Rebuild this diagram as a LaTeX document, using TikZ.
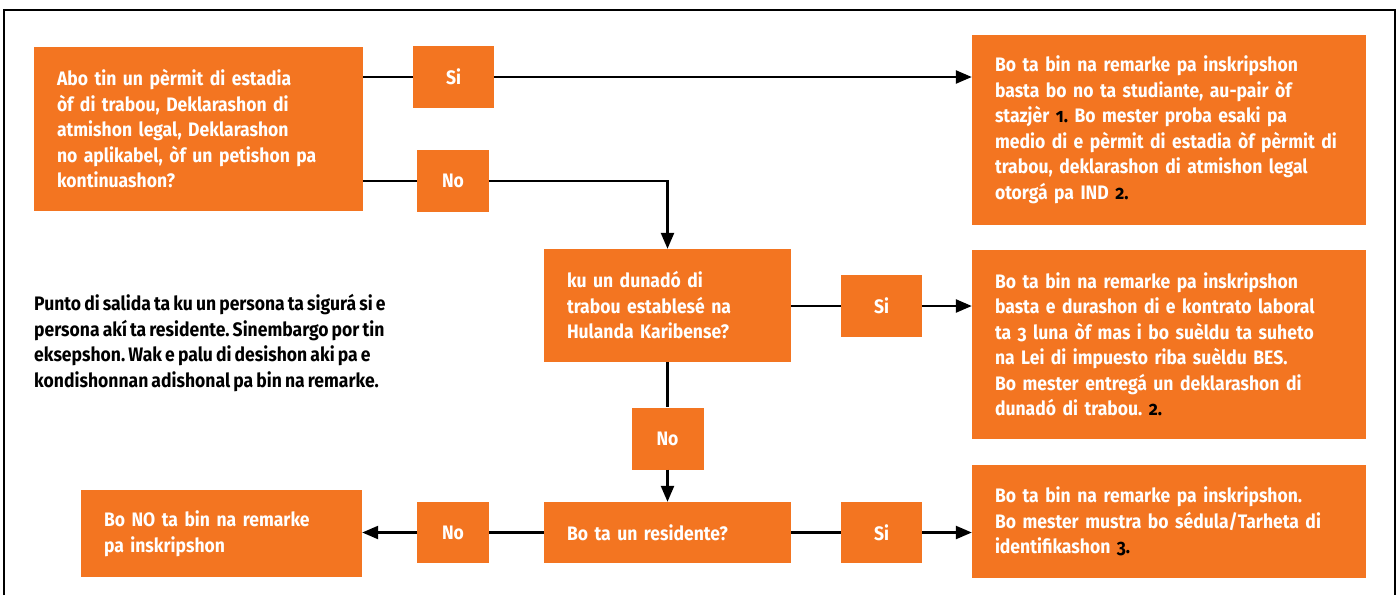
\documentclass[tikz,border=0pt]{standalone}
\usepackage{fontspec}
\setmainfont{Fira Sans}[FakeStretch=0.9, WordSpace=0.75]
\usepackage{tikz}
\usetikzlibrary{arrows.meta}
\definecolor{bnorange}{HTML}{F37521}
\newcommand{\fnum}[1]{{\color{black}\addfontfeatures{Numbers=OldStyle}#1}}
\newcommand{\onum}[1]{{\addfontfeatures{Numbers=OldStyle}#1}}
\frenchspacing

\begin{document}
\begin{tikzpicture}[x=1pt,y=-1pt,
  txt/.style={font=\bfseries\fontsize{19.5}{25.5}\selectfont},
  box/.style={txt, fill=bnorange, text=white, align=left, inner xsep=23pt, inner ysep=0pt},
  answer/.style={txt, fill=bnorange, text=white, inner sep=0pt, minimum height=62pt},
  yes/.style={answer, minimum width=81pt},
  no/.style={answer, minimum width=72pt},
  conn/.style={line width=2.4pt},
  arr/.style={conn, -{Triangle[length=16pt,width=13pt]}}]
\useasboundingbox (0,0) rectangle (1400,595);
\draw[line width=2.5pt] (4,595) -- (4,10) -- (1395,10) -- (1395,595);

\node[box, text width=283pt, minimum height=164pt] (q1) at (198.5,129)
  {Abo tin un pèrmit di estadia\\ òf di trabou, Deklarashon di\\ atmishon legal, Deklarashon\\ no aplikabel, òf un petishon pa\\ kontinuashon?};
\node[yes] (si1) at (453.5,77) {Si};
\node[no] (no1) at (453,181) {No};
\node[box, text width=348pt, minimum height=190pt] (r1) at (1169,130)
  {Bo ta bin na remarke pa inskripshon\\ basta bo no ta studiante, au-pair òf\\ stazjèr \fnum{1.} Bo mester proba esaki pa\\ medio di e pèrmit di estadia òf pèrmit di\\ trabou, deklarashon di atmishon legal\\ otorgá pa IND \fnum{2.}};

\node[box, text width=201pt, minimum height=113pt] (q2) at (667.5,305.5)
  {ku un dunadó di\\ trabou establesé na\\ Hulanda Karibense?};
\node[yes] (si2) at (881.5,306) {Si};
\node[box, text width=348pt, minimum height=189pt] (r2) at (1169,344.5)
  {Bo ta bin na remarke pa inskripshon\\ basta e durashon di e kontrato laboral\\ ta \onum{3} luna òf mas i bo suèldu ta suheto\\ na Lei di impuesto riba suèldu BES.\\ Bo mester entregá un deklarashon di\\ dunadó di trabou. \fnum{2.}};
\node[no] (no2) at (667.5,438.5) {No};

\node[box, text width=201pt, minimum height=61pt] (q3) at (667.5,532.5) {Bo ta un residente?};
\node[yes, minimum height=61pt] (si3) at (881.5,532.5) {Si};
\node[no, minimum height=61pt] (no3) at (453,532.5) {No};
\node[box, text width=348pt, minimum height=113pt] (r3) at (1169,521.5)
  {Bo ta bin na remarke pa inskripshon.\\ Bo mester mustra bo sédula/Tarheta di\\ identifikashon \fnum{3.}};
\node[box, text width=235pt, minimum height=87pt] (r4) at (221.5,533.5)
  {Bo NO ta bin na remarke\\ pa inskripshon};

\node[txt, align=left, anchor=west, inner sep=0pt] (note) at (34,343)
  {Punto di salida ta ku un persona ta sigurá si e\\ persona akí ta residente. Sinembargo por tin\\ eksepshon. Wak e palu di desishon aki pa e\\ kondishonnan adishonal pa bin na remarke.};

\draw[conn] (q1.east |- si1) -- (si1);
\draw[arr] (si1) -- (r1.west |- si1);
\draw[conn] (q1.east |- no1) -- (no1);
\draw[arr] (no1.east) -| (q2.north);
\draw[conn] (q2.east |- si2) -- (si2);
\draw[arr] (si2) -- (r2.west |- si2);
\draw[conn] (q2) -- (no2);
\draw[arr] (no2) -- (q3.north);
\draw[conn] (q3) -- (si3);
\draw[arr] (si3) -- (r3.west |- si3);
\draw[conn] (q3) -- (no3);
\draw[arr] (no3) -- (r4.east |- no3);
\end{tikzpicture}
\end{document}
